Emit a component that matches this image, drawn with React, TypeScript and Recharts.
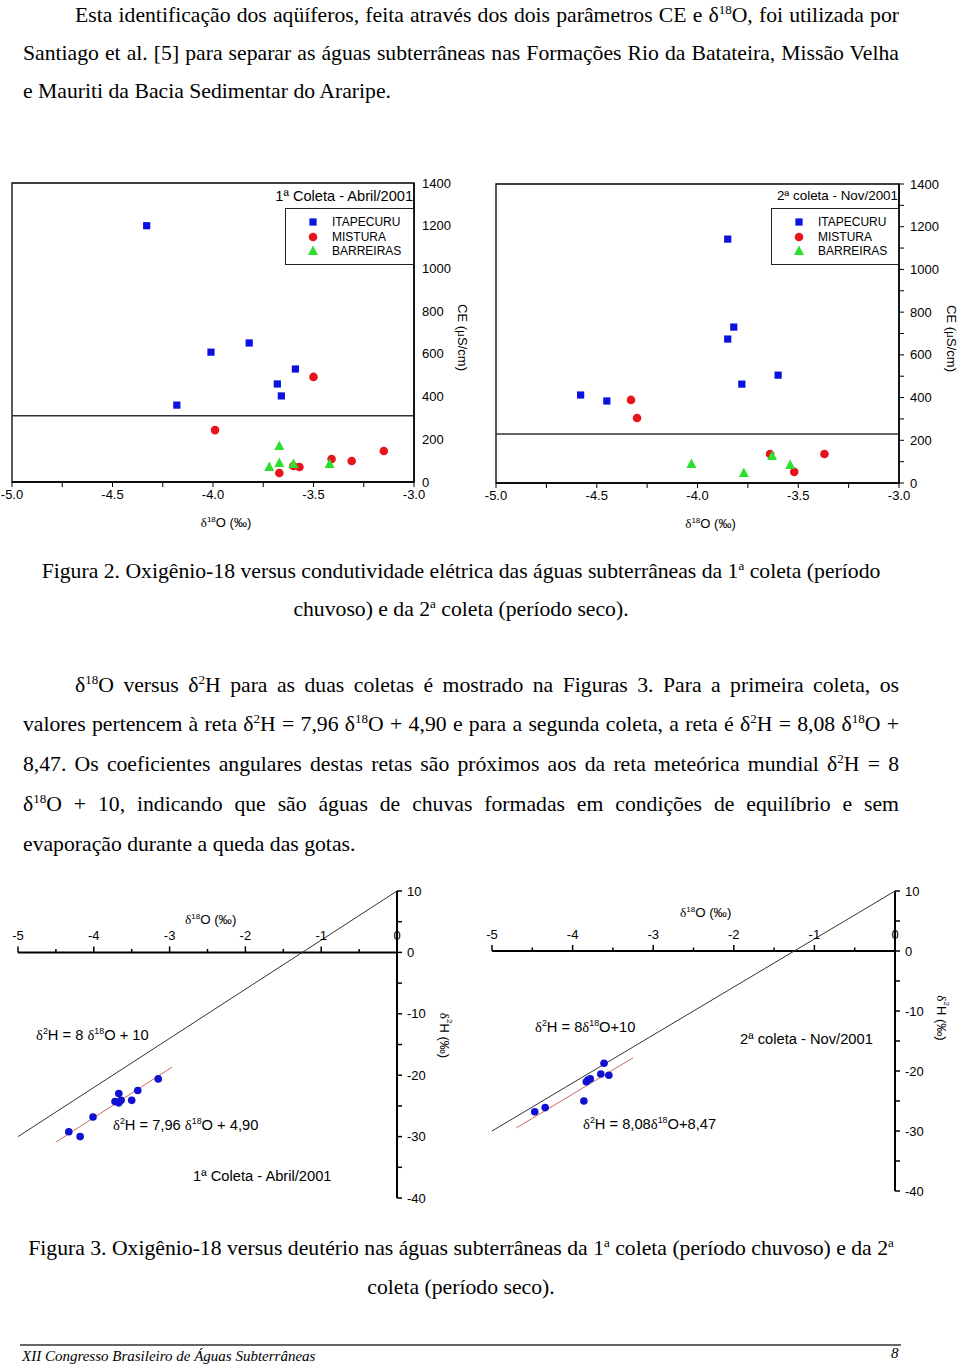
import React from "react";
import {
  Legend,
  ReferenceArea,
  ReferenceDot,
  ReferenceLine,
  Scatter,
  ScatterChart,
  XAxis,
  YAxis,
} from "recharts";

type Pt = { x: number; y: number };

// Figura 2: δ18O (‰) x CE (µS/cm), 1ª coleta (Abril/2001)
const itapecuruAbr: Pt[] = [
  { x: -4.33, y: 1200 }, { x: -4.01, y: 608 }, { x: -3.82, y: 651 }, { x: -3.59, y: 529 },
  { x: -3.68, y: 459 }, { x: -3.66, y: 403 }, { x: -4.18, y: 360 },
];
const misturaAbr: Pt[] = [
  { x: -3.5, y: 492 }, { x: -3.99, y: 243 }, { x: -3.41, y: 108 }, { x: -3.31, y: 98 },
  { x: -3.15, y: 145 }, { x: -3.57, y: 70 }, { x: -3.6, y: 75 }, { x: -3.67, y: 42 },
];
const barreirasAbr: Pt[] = [
  { x: -3.67, y: 168 }, { x: -3.67, y: 89 }, { x: -3.72, y: 70 }, { x: -3.6, y: 84 }, { x: -3.42, y: 84 },
];

// 2ª coleta (Nov/2001)
const itapecuruNov: Pt[] = [
  { x: -3.85, y: 1142 }, { x: -3.82, y: 730 }, { x: -3.85, y: 674 }, { x: -3.6, y: 505 },
  { x: -3.78, y: 463 }, { x: -4.58, y: 412 }, { x: -4.45, y: 384 },
];
const misturaNov: Pt[] = [
  { x: -4.33, y: 389 }, { x: -4.3, y: 304 }, { x: -3.64, y: 136 }, { x: -3.37, y: 136 }, { x: -3.52, y: 52 },
];
const barreirasNov: Pt[] = [
  { x: -4.03, y: 89 }, { x: -3.77, y: 47 }, { x: -3.63, y: 126 }, { x: -3.54, y: 84 },
];

const ceCutAbr = 310;
const ceCutNov = 230;
const ceTicksMajor = [0, 200, 400, 600, 800, 1000, 1200, 1400];
const ceTicksAll = [0, 100, 200, 300, 400, 500, 600, 700, 800, 900, 1000, 1100, 1200, 1300, 1400];
const o18TicksTop = [-5, -4.75, -4.5, -4.25, -4, -3.75, -3.5, -3.25, -3];

// Figura 3: δ18O x δ2H
const d2hAbr: Pt[] = [
  { x: -4.33, y: -29.2 }, { x: -4.18, y: -30.0 }, { x: -4.01, y: -26.8 }, { x: -3.72, y: -24.3 },
  { x: -3.67, y: -23.0 }, { x: -3.67, y: -24.5 }, { x: -3.64, y: -24.1 }, { x: -3.5, y: -24.1 },
  { x: -3.42, y: -22.5 }, { x: -3.15, y: -20.6 },
];
const d2hNov: Pt[] = [
  { x: -4.47, y: -26.8 }, { x: -4.34, y: -26.1 }, { x: -3.86, y: -25.0 }, { x: -3.83, y: -21.8 },
  { x: -3.81, y: -21.5 }, { x: -3.78, y: -21.3 }, { x: -3.65, y: -20.5 }, { x: -3.55, y: -20.7 },
  { x: -3.61, y: -18.7 },
];
const gmwl: Pt[] = [{ x: -5, y: -30 }, { x: 0, y: 10 }];
const fitAbr: Pt[] = [{ x: -4.5, y: -30.9 }, { x: -2.97, y: -18.7 }];
const fitNov: Pt[] = [{ x: -4.7, y: -29.5 }, { x: -3.25, y: -17.8 }];
const o18TicksBottom = [-5, -4.5, -4, -3.5, -3, -2.5, -2, -1.5, -1, -0.5, 0];
const d2hTicks = [10, 5, 0, -5, -10, -15, -20, -25, -30, -35, -40];

const SANS = '"Liberation Sans", Arial, sans-serif';
const SERIF = '"Liberation Serif", "Times New Roman", serif';
const BLUE = "#0b12de";
const RED = "#e5151b";
const GREEN = "#2ee02e";
const DOT_BLUE = "#1010d0";

const SquareDot = ({ cx, cy }: any) => <rect x={cx - 3.6} y={cy - 3.6} width={7.2} height={7.2} fill={BLUE} />;
const RoundDot = ({ cx, cy }: any) => <circle cx={cx} cy={cy} r={4.3} fill={RED} />;
const TriDot = ({ cx, cy }: any) => (
  <polygon points={`${cx},${cy - 5.5} ${cx - 5},${cy + 4} ${cx + 5},${cy + 4}`} fill={GREEN} />
);
const IsoDot = ({ cx, cy }: any) => <circle cx={cx} cy={cy} r={3.8} fill={DOT_BLUE} />;

const aquiferos = [
  { name: "ITAPECURU", Shape: SquareDot },
  { name: "MISTURA", Shape: RoundDot },
  { name: "BARREIRAS", Shape: TriDot },
];

const isHalf = (v: number) => Math.abs(v * 2 - Math.round(v * 2)) < 1e-6;

const O18Title = ({ viewBox, sx = 0, sy = 45 }: any) => {
  if (!viewBox) return null;
  const x = viewBox.x + viewBox.width / 2 + sx;
  const y = viewBox.y + sy;
  return (
    <text x={x} y={y} textAnchor="middle" fontFamily={SANS} fontSize={13} fill="#000">
      <tspan fontFamily={SERIF}>δ</tspan>
      <tspan fontSize={8} dy={-5}>18</tspan>
      <tspan dy={5}>O (‰)</tspan>
    </text>
  );
};

const SideTitle = ({ viewBox, sx = 0, sy = 0, kind }: any) => {
  if (!viewBox) return null;
  const x = viewBox.x + sx;
  const y = viewBox.y + viewBox.height / 2 + sy;
  return (
    <text x={x} y={y} transform={`rotate(90, ${x}, ${y})`} textAnchor="middle" dominantBaseline="central"
      fontFamily={SANS} fontSize={13} fill="#000">
      {kind === "ce" ? (
        <>
          <tspan>CE (</tspan>
          <tspan fontFamily={SERIF}>μ</tspan>
          <tspan>S/cm)</tspan>
        </>
      ) : (
        <>
          <tspan fontFamily={SERIF}>δ</tspan>
          <tspan fontSize={8} dy={-5}>2</tspan>
          <tspan dy={5}>H (‰)</tspan>
        </>
      )}
    </text>
  );
};

function LegendBlock({ title, titleSize, width }: { title: string; titleSize: number; width: number }) {
  return (
    <div style={{ position: "relative", width, height: 81, fontFamily: SANS, color: "#000" }}>
      <div style={{ position: "absolute", right: 1, top: 3, fontSize: titleSize, lineHeight: "18px", whiteSpace: "nowrap" }}>
        {title}
      </div>
      <div style={{ position: "absolute", left: 0, top: 24, width, height: 57, border: "1px solid #222", boxSizing: "border-box" }}>
        {aquiferos.map((a, i) => (
          <div key={a.name} style={{ position: "absolute", left: 0, top: 6 + i * 14.5, height: 14, lineHeight: "14px", fontSize: 12 }}>
            <svg width={40} height={14} style={{ position: "absolute", left: 0, top: 0 }}>
              <a.Shape cx={27} cy={7} />
            </svg>
            <span style={{ position: "absolute", left: 46, whiteSpace: "nowrap" }}>{a.name}</span>
          </div>
        ))}
      </div>
    </div>
  );
}

function CEPanel(props: {
  left: number;
  margin: { top: number; left: number; right: number; bottom: number };
  series: Pt[][];
  cut: number;
  title: string;
  titleSize: number;
  minorY: boolean;
  legendLeft: number;
  legendWidth: number;
  yTitleX: number;
}) {
  const { left, margin, series, cut, title, titleSize, minorY, legendLeft, legendWidth, yTitleX } = props;
  return (
    <div style={{ position: "absolute", left, top: 170 }}>
      <ScatterChart width={480} height={370} margin={margin}>
        <XAxis type="number" dataKey="x" domain={[-5, -3]} ticks={o18TicksTop} interval={0} allowDataOverflow
          tickFormatter={(v: number) => (isHalf(v) ? v.toFixed(1) : "")}
          tick={{ fontSize: 13, fill: "#000", fontFamily: SANS }}
          tickSize={5} tickMargin={3} height={40}
          axisLine={{ stroke: "#000", strokeWidth: 1.5 }} tickLine={{ stroke: "#000" }}
          label={<O18Title sx={13} sy={45} />} />
        <YAxis type="number" dataKey="y" orientation="right" domain={[0, 1400]} allowDataOverflow
          ticks={minorY ? ceTicksAll : ceTicksMajor} interval={0} width={60}
          tickFormatter={(v: number) => (v % 200 === 0 ? String(v) : "")}
          tick={{ fontSize: 13, fill: "#000", fontFamily: SANS }}
          tickSize={minorY ? 5 : 0} tickMargin={minorY ? 6 : 8}
          tickLine={minorY ? { stroke: "#000" } : false}
          axisLine={{ stroke: "#000", strokeWidth: 1.5 }}
          label={<SideTitle kind="ce" sx={yTitleX} sy={5} />} />
        <ReferenceArea x1={-5} x2={-3} y1={0} y2={1400} fill="none" stroke="#000" strokeWidth={1.3} ifOverflow="visible" />
        <ReferenceLine y={cut} stroke="#333" strokeWidth={1.5} />
        <Legend layout="vertical" align="center" verticalAlign="middle"
          wrapperStyle={{ left: legendLeft, top: 14, width: legendWidth, height: 81 }}
          content={() => <LegendBlock title={title} titleSize={titleSize} width={legendWidth} />} />
        {aquiferos.map((a, i) => (
          <Scatter key={a.name} name={a.name} data={series[i]} shape={a.Shape} isAnimationActive={false} />
        ))}
      </ScatterChart>
    </div>
  );
}

const AxisTick = ({ cx, cy, value }: any) => {
  const major = Number.isInteger(value);
  return (
    <g>
      <line x1={cx} y1={cy} x2={cx} y2={cy - (major ? 6 : 3.5)} stroke="#000" strokeWidth={1.5} />
      {major && (
        <text x={cx} y={cy - 17} textAnchor="middle" dominantBaseline="central" fontSize={13} fontFamily={SANS} fill="#000">
          {String(value)}
        </text>
      )}
    </g>
  );
};

function IsoPanel(props: {
  left: number;
  margin: { top: number; left: number; right: number; bottom: number };
  data: Pt[];
  fit: Pt[];
  yTitleX: number;
  yTitleY: number;
}) {
  const { left, margin, data, fit, yTitleX, yTitleY } = props;
  return (
    <div style={{ position: "absolute", left, top: 870 }}>
      <ScatterChart width={480} height={345} margin={margin}>
        <XAxis type="number" dataKey="x" domain={[-5, 0]} hide allowDataOverflow />
        <YAxis type="number" dataKey="y" orientation="right" domain={[-40, 10]} allowDataOverflow
          ticks={d2hTicks} interval={0} width={60}
          tickFormatter={(v: number) => (v % 10 === 0 ? String(v) : "")}
          tick={{ fontSize: 13, fill: "#000", fontFamily: SANS }}
          tickSize={5} tickMargin={5}
          tickLine={{ stroke: "#000", strokeWidth: 1.5 }}
          axisLine={{ stroke: "#000", strokeWidth: 2 }}
          label={<SideTitle kind="h" sx={yTitleX} sy={yTitleY} />} />
        <ReferenceLine y={0} stroke="#000" strokeWidth={2} />
        {o18TicksBottom.map((v) => (
          <ReferenceDot key={v} x={v} y={0} r={0} ifOverflow="visible"
            shape={(p: any) => <AxisTick cx={p.cx} cy={p.cy} value={v} />} />
        ))}
        <ReferenceLine segment={gmwl} stroke="#333" strokeWidth={1} ifOverflow="visible" />
        <ReferenceLine segment={fit} stroke="#cc6a5e" strokeWidth={1} ifOverflow="visible" />
        <Scatter data={data} shape={IsoDot} isAnimationActive={false} />
      </ScatterChart>
    </div>
  );
}

const Sup = ({ children }: any) => (
  <sup style={{ fontSize: "0.6em", lineHeight: 0, verticalAlign: "0.65em" }}>{children}</sup>
);
const Delta = ({ n }: { n: string }) => (
  <>
    <span style={{ fontFamily: SERIF }}>δ</span>
    <Sup>{n}</Sup>
  </>
);

const TextLine = ({ center, children, align = "justify", indent = 0, lh = 38 }: any) => (
  <div
    style={{
      position: "absolute", left: 23, width: 876, top: center - lh / 2 - 1.5, height: lh, lineHeight: `${lh}px`,
      paddingLeft: indent, boxSizing: "border-box", textAlign: align, textAlignLast: align as any,
      overflow: "hidden", whiteSpace: align === "center" ? "nowrap" : "normal",
    }}
  >
    {children}
  </div>
);

const Ann = ({ left, center, size = 14.7, children }: any) => (
  <div style={{ position: "absolute", left, top: center - 9, fontFamily: SANS, fontSize: size, lineHeight: "18px", whiteSpace: "nowrap", color: "#000" }}>
    {children}
  </div>
);

export default function App() {
  return (
    <div style={{ position: "absolute", left: 0, top: 0, width: 960, height: 1365, overflow: "hidden", background: "#fff", fontFamily: SERIF, fontSize: 21.7, color: "#000" }}>
      <TextLine center={16} indent={52}>
        Esta identificação dos aqüíferos, feita através dos dois parâmetros CE e δ<Sup>18</Sup>O, foi utilizada por
      </TextLine>
      <TextLine center={54}>
        Santiago et al. [5] para separar as águas subterrâneas nas Formações Rio da Batateira, Missão Velha
      </TextLine>
      <TextLine center={92} align="left">e Mauriti da Bacia Sedimentar do Araripe.</TextLine>

      <CEPanel left={0} margin={{ top: 13, left: 12, right: 6, bottom: 18 }}
        series={[itapecuruAbr, misturaAbr, barreirasAbr]} cut={ceCutAbr}
        title="1ª Coleta - Abril/2001" titleSize={14.6} minorY={false}
        legendLeft={285} legendWidth={129} yTitleX={49} />
      <CEPanel left={480} margin={{ top: 14, left: 16, right: 1, bottom: 17 }}
        series={[itapecuruNov, misturaNov, barreirasNov]} cut={ceCutNov}
        title="2ª coleta - Nov/2001" titleSize={13.4} minorY
        legendLeft={291} legendWidth={128} yTitleX={53} />

      <TextLine center={572} align="center">
        Figura 2. Oxigênio-18 versus condutividade elétrica das águas subterrâneas da 1<Sup>a</Sup> coleta (período
      </TextLine>
      <TextLine center={610} align="center">
        chuvoso) e da 2<Sup>a</Sup> coleta (período seco).
      </TextLine>

      <TextLine center={686} indent={52} lh={40}>
        δ<Sup>18</Sup>O versus δ<Sup>2</Sup>H para as duas coletas é mostrado na Figuras 3. Para a primeira coleta, os
      </TextLine>
      <TextLine center={725} lh={40}>
        valores pertencem à reta δ<Sup>2</Sup>H = 7,96 δ<Sup>18</Sup>O + 4,90 e para a segunda coleta, a reta é δ<Sup>2</Sup>H = 8,08 δ<Sup>18</Sup>O +
      </TextLine>
      <TextLine center={765} lh={40}>
        8,47. Os coeficientes angulares destas retas são próximos aos da reta meteórica mundial δ<Sup>2</Sup>H = 8
      </TextLine>
      <TextLine center={805} lh={40}>
        δ<Sup>18</Sup>O + 10, indicando que são águas de chuvas formadas em condições de equilíbrio e sem
      </TextLine>
      <TextLine center={845} align="left" lh={40}>evaporação durante a queda das gotas.</TextLine>

      <IsoPanel left={0} margin={{ top: 21, left: 18, right: 23, bottom: 17 }} data={d2hAbr} fit={fitAbr} yTitleX={48} yTitleY={-9} />
      <IsoPanel left={480} margin={{ top: 21, left: 12, right: 5, bottom: 24 }} data={d2hNov} fit={fitNov} yTitleX={47} yTitleY={-23} />

      <Ann left={185} center={920} size={13.3}><Delta n="18" />O (‰)</Ann>
      <Ann left={36} center={1035}><Delta n="2" />H = 8 <Delta n="18" />O + 10</Ann>
      <Ann left={113} center={1125}><Delta n="2" />H = 7,96 <Delta n="18" />O + 4,90</Ann>
      <Ann left={193} center={1176}>1ª Coleta - Abril/2001</Ann>

      <Ann left={680} center={913} size={13.3}><Delta n="18" />O (‰)</Ann>
      <Ann left={535} center={1027}><Delta n="2" />H = 8<Delta n="18" />O+10</Ann>
      <Ann left={740} center={1039}>2ª coleta - Nov/2001</Ann>
      <Ann left={583} center={1124}><Delta n="2" />H = 8,08<Delta n="18" />O+8,47</Ann>

      <TextLine center={1250} align="center" lh={39}>
        Figura 3. Oxigênio-18 versus deutério nas águas subterrâneas da 1<Sup>a</Sup> coleta (período chuvoso) e da 2<Sup>a</Sup>
      </TextLine>
      <TextLine center={1289} align="center" lh={39}>coleta (período seco).</TextLine>

      <div style={{ position: "absolute", left: 20, top: 1344, width: 881, height: 2, background: "#666" }} />
      <div style={{ position: "absolute", left: 22, top: 1347, fontSize: 15, lineHeight: "18px", fontStyle: "italic", whiteSpace: "nowrap" }}>
        XII Congresso Brasileiro de Águas Subterrâneas
      </div>
      <div style={{ position: "absolute", left: 891, top: 1344, fontSize: 15, lineHeight: "18px", fontStyle: "italic" }}>8</div>
    </div>
  );
}
